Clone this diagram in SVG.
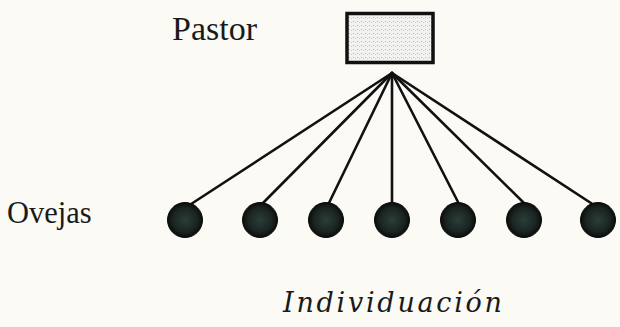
<svg xmlns="http://www.w3.org/2000/svg" width="620" height="327" viewBox="0 0 620 327">
<defs>
<style>
.lbl{font-family:"Liberation Serif","Times New Roman",serif;fill:#1a1a1a}
.ital{font-family:"DejaVu Serif","Liberation Serif",serif;font-style:italic;fill:#1a1a1a}
.ln{stroke:#111;stroke-width:2.6;fill:none;stroke-linecap:round}
.sheep{stroke:#0a0a0a;stroke-width:1}
</style>
<radialGradient id="sg" cx="50%" cy="50%" r="50%">
<stop offset="0" stop-color="#2c3d38"/>
<stop offset="0.7" stop-color="#1a2420"/>
<stop offset="1" stop-color="#0b0d0c"/>
</radialGradient>
<pattern id="dots" width="4" height="4" patternUnits="userSpaceOnUse">
<rect width="4" height="4" fill="#f2f2f0"/>
<rect x="1" y="1" width="1" height="1" fill="#b8b8b8"/>
<rect x="3" y="2" width="1" height="1" fill="#cfcfcf"/>
</pattern>
</defs>
<rect width="620" height="327" fill="#fbfaf5"/>
<text class="lbl" x="172" y="40" font-size="34">Pastor</text>
<text class="lbl" x="7" y="223" font-size="30.5">Ovejas</text>
<text class="ital" x="283" y="312" font-size="27" textLength="219" lengthAdjust="spacing">Individuación</text>
<g id="connectors">
<line class="ln" x1="392" y1="73" x2="185" y2="208"/>
<line class="ln" x1="392" y1="73" x2="260" y2="206"/>
<line class="ln" x1="392" y1="73" x2="328" y2="205"/>
<line class="ln" x1="392" y1="73" x2="392" y2="204"/>
<line class="ln" x1="392" y1="73" x2="458" y2="202"/>
<line class="ln" x1="392" y1="73" x2="527" y2="206"/>
<line class="ln" x1="392" y1="73" x2="597" y2="207"/>
</g>
<g id="pastor">
<rect x="347" y="13.5" width="86" height="49" fill="url(#dots)" stroke="#111" stroke-width="3.5"/>
</g>
<g id="oveja1"><circle class="sheep" cx="185" cy="220" r="17.5" fill="url(#sg)"/></g>
<g id="oveja2"><circle class="sheep" cx="260" cy="220" r="17.5" fill="url(#sg)"/></g>
<g id="oveja3"><circle class="sheep" cx="326" cy="220" r="17.5" fill="url(#sg)"/></g>
<g id="oveja4"><circle class="sheep" cx="392" cy="220" r="17.5" fill="url(#sg)"/></g>
<g id="oveja5"><circle class="sheep" cx="458" cy="220" r="17.5" fill="url(#sg)"/></g>
<g id="oveja6"><circle class="sheep" cx="524" cy="220" r="17.5" fill="url(#sg)"/></g>
<g id="oveja7"><circle class="sheep" cx="598" cy="220" r="17.5" fill="url(#sg)"/></g>
</svg>
